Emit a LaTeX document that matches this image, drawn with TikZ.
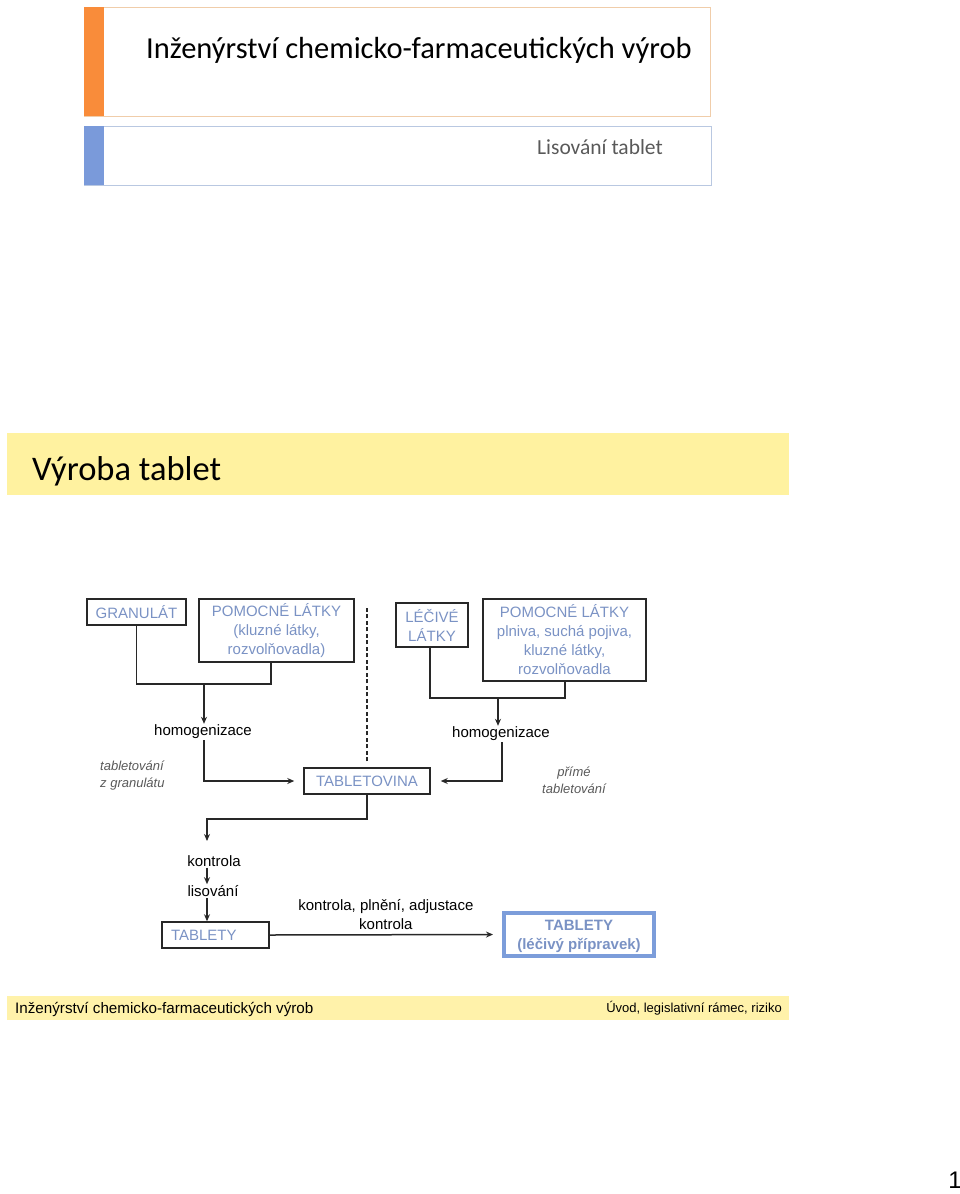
\documentclass[tikz,border=0pt]{standalone}
\usepackage{fontspec}
\setmainfont{Liberation Sans}
\newfontfamily\calfont{Carlito}
\usetikzlibrary{arrows.meta}
\definecolor{boxblue}{RGB}{122,146,196}
\definecolor{thickblue}{RGB}{124,157,218}
\definecolor{barorange}{RGB}{249,140,58}
\definecolor{barblue}{RGB}{122,154,218}
\definecolor{bandyellow}{RGB}{255,242,160}
\definecolor{footyellow}{RGB}{255,242,170}
\definecolor{tanline}{RGB}{240,205,170}
\definecolor{grayline}{RGB}{185,200,225}
\definecolor{linecol}{RGB}{40,40,40}
\tikzset{
  fs/.style={font=\fontsize{15}{19}\selectfont},
  boxnode/.style={draw=linecol, line width=1.5pt, fs, text=boxblue, inner sep=0pt, align=center},
  plain/.style={fs, text=black, inner sep=1pt},
  note/.style={font=\fontsize{13}{17}\selectfont\itshape, text=black!65, align=left, inner sep=0pt},
  conn/.style={draw=linecol, line width=1.5pt},
  arr/.style={conn, -{Stealth[length=7pt,width=6pt]}}
}
\begin{document}
\begin{tikzpicture}[x=1pt,y=-1pt]
\useasboundingbox (0,0) rectangle (960,1194);
% header boxes
\draw[tanline, line width=1pt] (84,7) rectangle (710,116);
\fill[barorange] (84,7) rectangle (104,116);
\node[anchor=west, font=\calfont\fontsize{30.5}{34}\selectfont, inner sep=0pt] (title) at (146,50) {Inženýrství chemicko-farmaceutických výrob};
\draw[grayline, line width=1pt] (84,126) rectangle (711,185);
\fill[barblue] (84,126) rectangle (104,185);
\node[anchor=east, font=\calfont\fontsize{21.5}{25}\selectfont, text=black!65, inner sep=0pt] (sub) at (663,147) {Lisování tablet};
% band
\fill[bandyellow] (7,433) rectangle (789,495);
\node[anchor=west, font=\calfont\fontsize{34.5}{38}\selectfont, inner sep=0pt] (band) at (32,471) {Výroba tablet};
% diagram boxes
\node[boxnode, minimum width=99pt, minimum height=26pt] (gran) at (136.5,612) {GRANULÁT};
\node[boxnode, minimum width=155pt, minimum height=63pt] (pom1) at (276.5,630.5) {POMOCNÉ LÁTKY\\(kluzné látky,\\rozvolňovadla)};
\node[boxnode, minimum width=72pt, minimum height=44pt] (lec) at (432,625) {LÉČIVÉ\\LÁTKY};
\node[boxnode, minimum width=163pt, minimum height=82pt] (pom2) at (564.5,640) {POMOCNÉ LÁTKY\\plniva, suchá pojiva,\\kluzné látky,\\rozvolňovadla};
\node[plain] (hom1) at (203,732) {homogenizace};
\node[plain] (hom2) at (501,734) {homogenizace};
\node[boxnode, minimum width=126pt, minimum height=26pt] (tbv) at (367,781) {TABLETOVINA};
\node[note, anchor=west] (tg) at (100,775.5) {tabletování\\z granulátu};
\node[note, align=center] (pt) at (574,780.5) {přímé\\tabletování};
\node[plain] (kon) at (214,861) {kontrola};
\node[plain] (lis) at (213,891) {lisování};
\node[boxnode, minimum width=107pt, minimum height=26pt, text width=89pt, align=left, inner xsep=9pt] (tab1) at (215.5,935) {TABLETY};
\node[draw=thickblue, line width=4pt, minimum width=150pt, minimum height=43pt, inner sep=0pt] (tab2) at (579,934.5) {};
\node[font=\fontsize{15}{19}\selectfont\bfseries, text=boxblue, align=center, inner sep=0pt] (tab2t) at (579,936) {TABLETY\\(léčivý přípravek)};
% connectors
\coordinate (j2) at (271,684);
\coordinate (a1) at (204,684);
\draw[conn] (gran.south) |- (j2) -- (j2 |- pom1.south);
\draw[arr] (a1) -- (a1 |- hom1.north);
\coordinate (j3) at (565,698);
\coordinate (a2) at (498,698);
\draw[conn] (lec.south -| 430,0) |- (j3) -- (j3 |- pom2.south);
\draw[arr] (a2) -- (a2 |- hom2.north);
\draw[arr, shorten >=9pt] (hom1.south -| 204,0) |- (tbv.west);
\draw[arr, shorten >=10pt] (hom2.south -| 502,0) |- (tbv.east);
\draw[line width=1.5pt, draw=linecol, dash pattern=on 4pt off 2.5pt] (tbv.north) ++(0,-6) -- (367,606);
\coordinate (j4) at (207,819);
\draw[arr] (tbv.south) |- (j4) -- (207,841);
\draw[arr, line width=1.2pt] (kon.south -| 207,0) -- (lis.north -| 207,0);
\draw[arr] (lis.south -| 207,0) -- (tab1.north -| 207,0);
\draw[arr, shorten >=9pt] (tab1.east) -- (tab2.west) node[midway, above=3.5pt, plain, align=center] (lab) {kontrola, plnění, adjustace\\kontrola};
% footer
\fill[footyellow] (7,996) rectangle (789,1020);
\node[anchor=west, font=\fontsize{15.2}{18}\selectfont, inner sep=0pt] (f1) at (15,1009) {Inženýrství chemicko-farmaceutických výrob};
\node[anchor=east, font=\fontsize{13}{16}\selectfont, inner sep=0pt] (f2) at (782,1008) {Úvod, legislativní rámec, riziko};
\node[anchor=east, font=\fontsize{24}{28}\selectfont, inner sep=0pt] (pg) at (962,1180) {1};
\end{tikzpicture}
\end{document}
